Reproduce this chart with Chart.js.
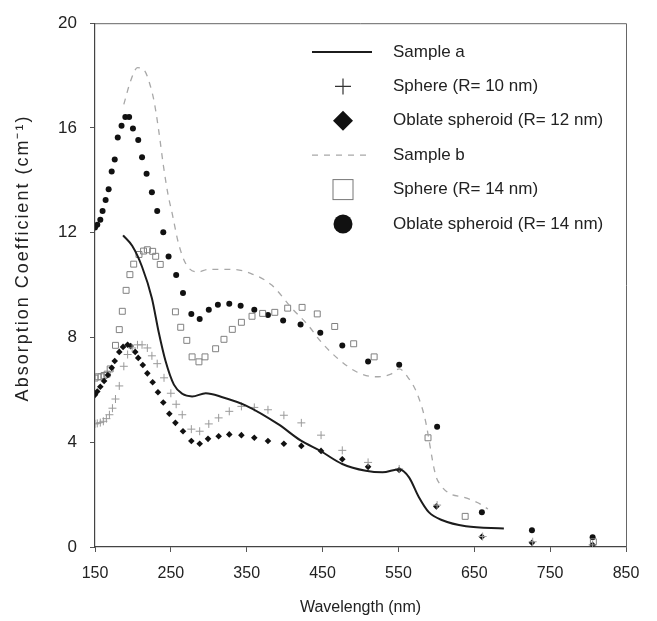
<!DOCTYPE html>
<html>
<head>
<meta charset="utf-8">
<title>Absorption Coefficient</title>
<script src="https://cdn.jsdelivr.net/npm/chart.js@4.4.1/dist/chart.umd.min.js"></script>
<style>
    html, body { margin: 0; padding: 0; background: #fff; }
    #wrap { width: 657px; height: 621px; }
</style>
</head>
<body>
<div id="wrap"><canvas id="absChart"></canvas></div>
<script>
// values (wavelength in nm, absorption in cm-1)
const sampleAX = [187, 199, 212, 225, 234, 243, 254, 265, 278, 296, 318, 349, 392, 421, 447, 476, 507, 529, 551, 564, 577, 590, 608, 639, 689];
const sampleAY = [11.9, 11.5, 10.7, 9.5, 8.2, 7.1, 6.2, 5.85, 5.75, 5.87, 5.72, 5.4, 4.68, 4.07, 3.67, 3.17, 2.91, 2.85, 2.97, 2.66, 1.9, 1.33, 1.02, 0.79, 0.71];

const sphere10X = [150, 153, 157, 161, 165, 169, 173, 177, 182, 188, 193, 199, 206, 212, 219, 225, 232, 241, 250, 257, 265, 277, 288, 300, 313, 327, 343, 360, 378, 399, 422, 448, 476, 510, 551, 601, 661, 727, 806];
const sphere10Y = [4.7, 4.72, 4.75, 4.8, 4.9, 5.05, 5.3, 5.65, 6.15, 6.9, 7.35, 7.6, 7.72, 7.72, 7.6, 7.3, 7.0, 6.46, 5.87, 5.45, 5.05, 4.5, 4.42, 4.7, 4.93, 5.18, 5.37, 5.33, 5.24, 5.03, 4.74, 4.27, 3.69, 3.23, 2.98, 1.6, 0.4, 0.2, 0.08];

const oblate12X = [150, 153, 157, 162, 167, 172, 176, 182, 187, 193, 197, 203, 207, 213, 219, 226, 233, 240, 248, 256, 266, 277, 288, 299, 313, 327, 343, 360, 378, 399, 422, 448, 476, 510, 551, 600, 660, 726, 806];
const oblate12Y = [5.81, 5.94, 6.12, 6.34, 6.57, 6.84, 7.1, 7.45, 7.64, 7.72, 7.67, 7.45, 7.22, 6.95, 6.63, 6.29, 5.91, 5.52, 5.09, 4.74, 4.42, 4.05, 3.94, 4.13, 4.23, 4.3, 4.27, 4.17, 4.05, 3.94, 3.86, 3.67, 3.35, 3.06, 2.94, 1.55, 0.39, 0.16, 0.08];

const sampleBX = [188, 197, 206, 215, 222, 228, 234, 240, 246, 252, 260, 270, 285, 300, 330, 355, 383, 410, 430, 449, 470, 494, 520, 540, 551, 562, 574, 585, 599, 606, 617, 636, 654, 668];
const sampleBY = [16.9, 17.8, 18.3, 18.2, 17.7, 17.0, 15.9, 14.6, 13.5, 12.7, 11.6, 10.8, 10.5, 10.6, 10.6, 10.45, 10.0, 9.1, 8.5, 7.8, 7.2, 6.7, 6.5, 6.6, 6.8, 6.5, 5.9, 4.9, 2.75, 2.35, 2.05, 1.9, 1.7, 1.45];

const sphere14X = [150, 154, 158, 162, 166, 170, 177, 182, 186, 191, 196, 201, 208, 214, 219, 226, 230, 236, 256, 263, 271, 278, 287, 295, 309, 320, 331, 343, 357, 371, 387, 404, 423, 443, 466, 491, 518, 589, 638, 807];
const sphere14Y = [6.45, 6.5, 6.5, 6.55, 6.6, 6.8, 7.7, 8.3, 9.0, 9.8, 10.4, 10.8, 11.17, 11.3, 11.35, 11.29, 11.1, 10.79, 8.98, 8.39, 7.89, 7.26, 7.07, 7.26, 7.57, 7.93, 8.31, 8.58, 8.81, 8.92, 8.96, 9.12, 9.15, 8.9, 8.42, 7.76, 7.26, 4.17, 1.17, 0.2];

const oblate14X = [150, 153, 157, 160, 164, 168, 172, 176, 180, 185, 190, 195, 200, 207, 212, 218, 225, 232, 240, 247, 257, 266, 277, 288, 300, 312, 327, 342, 360, 378, 398, 421, 447, 476, 510, 551, 601, 660, 726, 806];
const oblate14Y = [12.2, 12.3, 12.5, 12.83, 13.25, 13.66, 14.34, 14.8, 15.64, 16.08, 16.42, 16.42, 15.98, 15.54, 14.88, 14.25, 13.55, 12.83, 12.02, 11.09, 10.39, 9.7, 8.9, 8.71, 9.06, 9.25, 9.29, 9.21, 9.06, 8.86, 8.65, 8.5, 8.18, 7.69, 7.08, 6.96, 4.59, 1.33, 0.64, 0.37];

const xTicks = [150, 250, 350, 450, 550, 650, 750, 850];
const yTicks = [0, 4, 8, 12, 16, 20];

const FONT = '"Liberation Sans", Arial, Helvetica, sans-serif';
const Y_TITLE = 'Absorption Coefficient (cm\u207B\u00B9)';

function pairs(xs, ys) {
    return xs.map((x, i) => ({ x: x, y: ys[i] }));
}

// legend sits inside the plot, top right
const insideLegend = {
    id: 'insideLegend',
    afterDraw(chart) {
        const ctx = chart.ctx;
        const symX = 343, textX = 393, rowY = 52, rowGap = 34.4;
        ctx.save();
        ctx.font = '17px ' + FONT;
        ctx.textBaseline = 'middle';
        chart.data.datasets.forEach((ds, i) => {
            const y = rowY + i * rowGap;
            ctx.strokeStyle = ds.borderColor;
            ctx.fillStyle = ds.backgroundColor;
            ctx.setLineDash([]);
            if (ds.legendKind === 'line') {
                ctx.lineWidth = ds.borderWidth;
                if (ds.borderDash) ctx.setLineDash(ds.borderDash);
                ctx.beginPath();
                ctx.moveTo(symX - 31, y);
                ctx.lineTo(symX + 29, y);
                ctx.stroke();
                ctx.setLineDash([]);
            } else if (ds.pointStyle === 'cross') {
                ctx.strokeStyle = '#333';
                ctx.lineWidth = 1.2;
                ctx.beginPath();
                ctx.moveTo(symX - 8, y); ctx.lineTo(symX + 8, y);
                ctx.moveTo(symX, y - 8); ctx.lineTo(symX, y + 8);
                ctx.stroke();
            } else if (ds.pointStyle === 'rectRot') {
                ctx.fillStyle = '#111';
                ctx.beginPath();
                ctx.moveTo(symX, y - 10); ctx.lineTo(symX + 10, y);
                ctx.lineTo(symX, y + 10); ctx.lineTo(symX - 10, y);
                ctx.closePath();
                ctx.fill();
            } else if (ds.pointStyle === 'rect') {
                ctx.lineWidth = 1;
                ctx.strokeStyle = '#777';
                ctx.strokeRect(symX - 10, y - 10, 20, 20);
            } else {
                ctx.fillStyle = '#111';
                ctx.beginPath();
                ctx.arc(symX, y, 9.5, 0, Math.PI * 2);
                ctx.fill();
            }
            ctx.fillStyle = '#222';
            ctx.fillText(ds.label, textX, y);
        });
        ctx.restore();
    }
};

// top and right edges of the frame, plus the y title
const frameBox = {
    id: 'frameBox',
    afterDraw(chart) {
        const a = chart.chartArea;
        const ctx = chart.ctx;
        ctx.save();
        ctx.strokeStyle = '#666';
        ctx.lineWidth = 1;
        ctx.beginPath();
        ctx.moveTo(a.left, a.top + 0.5);
        ctx.lineTo(a.right + 0.5, a.top + 0.5);
        ctx.lineTo(a.right + 0.5, a.bottom);
        ctx.stroke();

        ctx.translate(23, 258);
        ctx.rotate(-Math.PI / 2);
        ctx.font = '18px ' + FONT;
        ctx.letterSpacing = '2px';
        ctx.fillStyle = '#222';
        ctx.textAlign = 'center';
        ctx.textBaseline = 'middle';
        ctx.fillText(Y_TITLE, 0, 0);
        ctx.restore();
    }
};

const ctx = document.getElementById('absChart').getContext('2d');
window.myChart = new Chart(ctx, {
    type: 'scatter',
    data: {
        datasets: [
            {
                label: 'Sample a',
                legendKind: 'line',
                data: pairs(sampleAX, sampleAY),
                showLine: true,
                borderColor: '#1c1c1c',
                backgroundColor: '#1c1c1c',
                borderWidth: 2,
                pointRadius: 0,
                cubicInterpolationMode: 'monotone'
            },
            {
                label: 'Sphere (R= 10 nm)',
                data: pairs(sphere10X, sphere10Y),
                pointStyle: 'cross',
                pointRadius: 4,
                borderColor: '#9a9a9a',
                backgroundColor: '#9a9a9a',
                borderWidth: 1
            },
            {
                label: 'Oblate spheroid (R= 12 nm)',
                data: pairs(oblate12X, oblate12Y),
                pointStyle: 'rectRot',
                pointRadius: 3.3,
                borderColor: '#111',
                backgroundColor: '#111',
                borderWidth: 0
            },
            {
                label: 'Sample b',
                legendKind: 'line',
                data: pairs(sampleBX, sampleBY),
                showLine: true,
                borderColor: '#a8a8a8',
                backgroundColor: '#a8a8a8',
                borderWidth: 1.3,
                borderDash: [6, 6],
                pointRadius: 0,
                cubicInterpolationMode: 'monotone'
            },
            {
                label: 'Sphere (R= 14 nm)',
                data: pairs(sphere14X, sphere14Y),
                pointStyle: 'rect',
                pointRadius: 4.2,
                borderColor: '#808080',
                backgroundColor: 'rgba(255,255,255,0)',
                borderWidth: 1
            },
            {
                label: 'Oblate spheroid (R= 14 nm)',
                data: pairs(oblate14X, oblate14Y),
                pointStyle: 'circle',
                pointRadius: 3,
                borderColor: '#111',
                backgroundColor: '#111',
                borderWidth: 0
            }
        ]
    },
    options: {
        responsive: true,
        maintainAspectRatio: false,
        animation: false,
        layout: { padding: { left: 0, right: 31, top: 16, bottom: 0 } },
        plugins: {
            legend: { display: false },
            tooltip: { enabled: false }
        },
        scales: {
            x: {
                type: 'linear',
                min: 150,
                max: 850,
                afterBuildTicks: scale => { scale.ticks = xTicks.map(v => ({ value: v })); },
                afterFit: scale => { scale.height = 74; },
                grid: { display: true, drawOnChartArea: false, drawTicks: true, tickLength: 5, color: '#555' },
                border: { display: true, color: '#444', width: 1.2 },
                ticks: { color: '#222', font: { family: FONT, size: 16 }, padding: 12, maxRotation: 0, autoSkip: false },
                title: {
                    display: true,
                    text: 'Wavelength (nm)',
                    color: '#222',
                    font: { family: FONT, size: 16 },
                    padding: { top: 0, bottom: 4 }
                }
            },
            y: {
                type: 'linear',
                min: 0,
                max: 20,
                afterBuildTicks: scale => { scale.ticks = yTicks.map(v => ({ value: v })); },
                afterFit: scale => { scale.width = 95; },
                grid: { display: true, drawOnChartArea: false, drawTicks: true, tickLength: 5, color: '#555' },
                border: { display: true, color: '#444', width: 1.2 },
                ticks: { color: '#222', font: { family: FONT, size: 17 }, padding: 13 },
                title: { display: false }
            }
        }
    },
    plugins: [insideLegend, frameBox]
});
</script>
</body>
</html>
